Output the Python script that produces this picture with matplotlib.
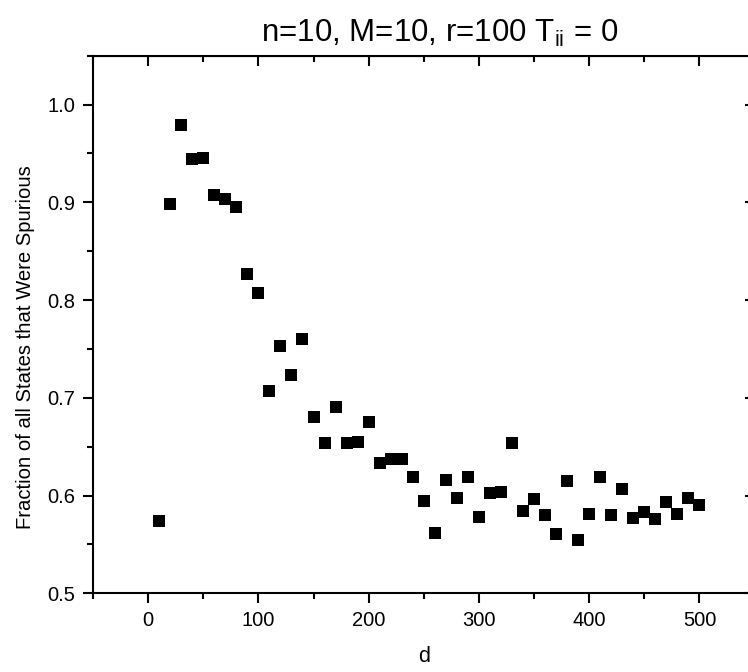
import matplotlib
matplotlib.use("Agg")
import matplotlib.pyplot as plt
from matplotlib.ticker import MultipleLocator

plt.rcParams['font.family'] = ['Liberation Sans', 'DejaVu Sans']
plt.rcParams['mathtext.fontset'] = 'custom'
plt.rcParams['mathtext.rm'] = 'Liberation Sans'
plt.rcParams['mathtext.it'] = 'Liberation Sans'

# Number of stored patterns d and fraction of recalled states that were spurious
d_values = [10, 20, 30, 40, 50, 60, 70, 80, 90, 100,
            110, 120, 130, 140, 150, 160, 170, 180, 190, 200,
            210, 220, 230, 240, 250, 260, 270, 280, 290, 300,
            310, 320, 330, 340, 350, 360, 370, 380, 390, 400,
            410, 420, 430, 440, 450, 460, 470, 480, 490, 500]
spurious_fraction = [0.574, 0.898, 0.979, 0.944, 0.945, 0.907, 0.903, 0.895, 0.827, 0.807,
                     0.707, 0.753, 0.723, 0.760, 0.680, 0.654, 0.691, 0.654, 0.655, 0.675,
                     0.633, 0.637, 0.637, 0.619, 0.594, 0.562, 0.616, 0.597, 0.619, 0.578,
                     0.603, 0.604, 0.654, 0.584, 0.596, 0.580, 0.561, 0.615, 0.555, 0.581,
                     0.619, 0.580, 0.607, 0.577, 0.583, 0.576, 0.593, 0.581, 0.597, 0.590]

fig = plt.figure(figsize=(7.48, 6.72), dpi=100)
ax = fig.add_axes([0.1243, 0.1171, 0.8845, 0.8])

ax.plot(d_values, spurious_fraction, linestyle='none', marker='s',
        markersize=8, color='black', markeredgewidth=0)

ax.set_xlim(-50, 550)
ax.set_ylim(0.5, 1.05)
ax.xaxis.set_major_locator(MultipleLocator(100))
ax.xaxis.set_minor_locator(MultipleLocator(50))
ax.yaxis.set_minor_locator(MultipleLocator(0.05))
ax.set_yticks([0.5, 0.6, 0.7, 0.8, 0.9, 1.0])
ax.set_yticklabels(['0.5', '0.6', '0.7', '0.8', '0.9', '1.0'])

for sp in ax.spines.values():
    sp.set_linewidth(1.5)

ax.tick_params(axis='both', which='both', width=1.5, labelsize=14.5)
ax.tick_params(axis='both', which='major', length=7.5, pad=5)
ax.tick_params(axis='both', which='minor', length=4)
ax.tick_params(axis='x', which='both', direction='out', top=False)
ax.tick_params(axis='y', which='both', direction='out', right=False)

# Mirrored axes with inward ticks on top and right
sec_x = ax.secondary_xaxis('top')
sec_x.xaxis.set_major_locator(MultipleLocator(100))
sec_x.xaxis.set_minor_locator(MultipleLocator(50))
sec_x.tick_params(which='both', direction='in', width=1.5, labeltop=False)
sec_x.tick_params(which='major', length=7.5)
sec_x.tick_params(which='minor', length=4)
sec_y = ax.secondary_yaxis('right')
sec_y.yaxis.set_major_locator(MultipleLocator(0.1))
sec_y.yaxis.set_minor_locator(MultipleLocator(0.05))
sec_y.tick_params(which='both', direction='in', width=1.5, labelright=False)
sec_y.tick_params(which='major', length=7.5)
sec_y.tick_params(which='minor', length=4)

ax.set_xlabel('d', fontsize=15.5, labelpad=12)
ax.set_ylabel('Fraction of all States that Were Spurious', fontsize=14.6)
ax.yaxis.set_label_coords(-0.088, 0.458)
ax.set_title(r'n=10, M=10, r=100 T$_{\mathrm{ii}}$ = 0', fontsize=22.5, pad=10,
             x=0.5245)

fig.savefig('out.png', dpi=100)
